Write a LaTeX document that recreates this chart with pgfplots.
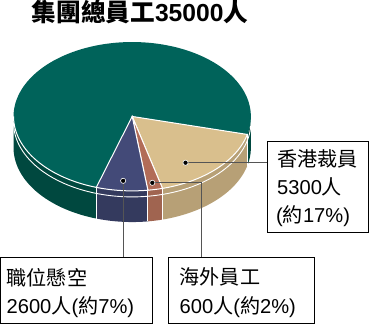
\documentclass[border=0pt]{standalone}
\usepackage{pgfplots}
\pgfplotsset{compat=1.18}
\usepgfplotslibrary{fillbetween}
\usepackage{fontspec}
\setmainfont{Liberation Sans}
\newfontfamily\cjk{Noto Sans CJK TC}
\newfontfamily\cjkblack{Noto Sans CJK TC Black}
\definecolor{gtop}{HTML}{00635A}
\definecolor{gside}{HTML}{00483F}
\definecolor{ttop}{HTML}{D9BF8D}
\definecolor{tside}{HTML}{B7A076}
\definecolor{btop}{HTML}{434A78}
\definecolor{bside}{HTML}{343A5E}
\definecolor{rtop}{HTML}{B26C58}
\definecolor{rside}{HTML}{A06450}
\definecolor{lead}{HTML}{555555}
% slice shares as drawn (percent)
\def\pHK{17}\def\pOS{2}\def\pVA{7}
\def\cx{133}\def\cy{207}\def\rx{118}\def\ry{74}\def\h{31}
\begin{document}
\begin{tikzpicture}
\pgfmathsetmacro\tA{346}                 % start of HK slice (=-14)
\pgfmathsetmacro\tB{\tA-\pHK*3.6}       % HK / overseas
\pgfmathsetmacro\tC{\tB-\pOS*3.6}       % overseas / vacant
\pgfmathsetmacro\tD{\tC-\pVA*3.6}       % vacant / rest
\begin{axis}[width=369pt,height=324pt,scale only axis,hide axis,
  xmin=0,xmax=369,ymin=0,ymax=324,clip=false]
% ---- sides
\addplot[draw=none,name path=s1t,domain=180:\tD,samples=40]({\cx+\rx*cos(x)},{\cy+\ry*sin(x)});
\addplot[draw=none,name path=s1b,domain=180:\tD,samples=40]({\cx+\rx*cos(x)},{\cy-\h+\ry*sin(x)});
\addplot[gside,draw=none] fill between[of=s1t and s1b];
\addplot[draw=none,name path=s2t,domain=\tD:\tC,samples=20]({\cx+\rx*cos(x)},{\cy+\ry*sin(x)});
\addplot[draw=none,name path=s2b,domain=\tD:\tC,samples=20]({\cx+\rx*cos(x)},{\cy-\h+\ry*sin(x)});
\addplot[bside,draw=none] fill between[of=s2t and s2b];
\addplot[draw=none,name path=s3t,domain=\tC:\tB,samples=10]({\cx+\rx*cos(x)},{\cy+\ry*sin(x)});
\addplot[draw=none,name path=s3b,domain=\tC:\tB,samples=10]({\cx+\rx*cos(x)},{\cy-\h+\ry*sin(x)});
\addplot[rside,draw=none] fill between[of=s3t and s3b];
\addplot[draw=none,name path=s4t,domain=\tB:\tA,samples=40]({\cx+\rx*cos(x)},{\cy+\ry*sin(x)});
\addplot[draw=none,name path=s4b,domain=\tB:\tA,samples=40]({\cx+\rx*cos(x)},{\cy-\h+\ry*sin(x)});
\addplot[tside,draw=none] fill between[of=s4t and s4b];
\addplot[draw=none,name path=s5t,domain=\tA:360,samples=10]({\cx+\rx*cos(x)},{\cy+\ry*sin(x)});
\addplot[draw=none,name path=s5b,domain=\tA:360,samples=10]({\cx+\rx*cos(x)},{\cy-\h+\ry*sin(x)});
\addplot[gside,draw=none] fill between[of=s5t and s5b];
% white band on the side
\addplot[white,line width=0.9pt,domain=180:360,samples=80]({\cx+\rx*cos(x)},{\cy-6+\ry*sin(x)});
% vertical seams
\addplot[white,line width=1pt,domain=0:1,samples=2]({\cx+\rx*cos(\tD)},{\cy+\ry*sin(\tD)-\h*x});
\addplot[white,line width=1pt,domain=0:1,samples=2]({\cx+\rx*cos(\tC)},{\cy+\ry*sin(\tC)-\h*x});
\addplot[white,line width=1pt,domain=0:1,samples=2]({\cx+\rx*cos(\tB)},{\cy+\ry*sin(\tB)-\h*x});
\addplot[white,line width=1pt,domain=0:1,samples=2]({\cx+\rx*cos(\tA)},{\cy+\ry*sin(\tA)-\h*x});
% ---- tops
\addplot[fill=gtop,draw=none,domain=\tA-360:\tD,samples=120]({\cx+\rx*cos(x)},{\cy+\ry*sin(x)}) -- (axis cs:\cx,\cy) -- cycle;
\addplot[fill=ttop,draw=white,line width=1pt,domain=\tB:\tA,samples=40]({\cx+\rx*cos(x)},{\cy+\ry*sin(x)}) -- (axis cs:\cx,\cy) -- cycle;
\addplot[fill=rtop,draw=white,line width=1pt,domain=\tC:\tB,samples=10]({\cx+\rx*cos(x)},{\cy+\ry*sin(x)}) -- (axis cs:\cx,\cy) -- cycle;
\addplot[fill=btop,draw=white,line width=1pt,domain=\tD:\tC,samples=20]({\cx+\rx*cos(x)},{\cy+\ry*sin(x)}) -- (axis cs:\cx,\cy) -- cycle;
\addplot[white,line width=1pt,domain=180:\tD,samples=40]({\cx+\rx*cos(x)},{\cy+\ry*sin(x)});
% ---- boxes
\draw[black,line width=0.9pt,fill=white] (axis cs:267,92) rectangle (axis cs:368,182);
\draw[black,line width=0.9pt,fill=white] (axis cs:2,1) rectangle (axis cs:153,67);
\draw[black,line width=0.9pt,fill=white] (axis cs:169,1) rectangle (axis cs:314,67);
% ---- leaders
\addplot[lead,line width=1.2pt] coordinates {(186,161) (267,161)};
\addplot[lead,line width=1.2pt] coordinates {(124,143) (124,67)};
\addplot[lead,line width=1.2pt] coordinates {(153,141) (202,141) (202,67)};
\addplot[only marks,mark=*,mark size=2.6pt,mark options={fill=black,draw=white,line width=0.6pt}]
  coordinates {(186,161) (124,143) (153,141)};
% ---- texts
\node[anchor=west,font=\fontsize{24.5}{29}\selectfont,inner sep=0pt] at (axis cs:33,311) {{\cjkblack 集團總員工}\textbf{35000}{\cjkblack 人}};
\begin{scope}[every node/.style={anchor=west,inner sep=0pt,font=\fontsize{20}{24}\selectfont}]
\node at (axis cs:277,165) {\cjk 香港裁員};
\node at (axis cs:277,137) {5300{\cjk 人}};
\node at (axis cs:276,108) {({\cjk 約}17\%)};
\node at (axis cs:8,47) {\cjk 職位懸空};
\node at (axis cs:8,17) {2600{\cjk 人}({\cjk 約}7\%)};
\node at (axis cs:180,47) {\cjk 海外員工};
\node at (axis cs:180,17) {600{\cjk 人}({\cjk 約}2\%)};
\end{scope}
\end{axis}
\end{tikzpicture}
\end{document}
